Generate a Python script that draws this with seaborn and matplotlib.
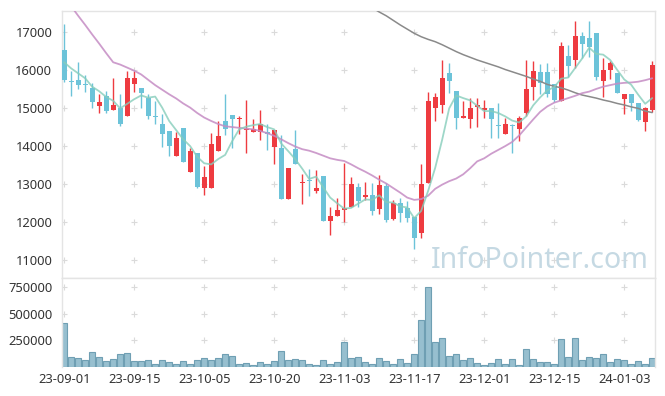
import numpy as np
import pandas as pd
import seaborn as sns
import matplotlib
matplotlib.use('Agg')
import matplotlib.pyplot as plt

sns.set_theme(style="white")
plt.rcParams['font.family'] = ['Noto Sans', 'DejaVu Sans']

# x tick labels, one every 10 trading days
tick_labels = ['23-09-01', '23-09-15', '23-10-05', '23-10-20', '23-11-03',
               '23-11-17', '23-12-01', '23-12-15', '24-01-03']

opens = [16520, 15700, 15730, 15630, 15520, 15060, 15310, 14960, 15000, 14800, 15620, 15520,
         15270, 14780, 14580, 14390, 13750, 14470, 13330, 13820, 12910, 12910, 13860, 14650,
         14810, 14710, 14410, 14380, 14380, 14380, 13980, 13960, 12620, 13920, 13040, 13090,
         12820, 13220, 12040, 12170, 12320, 12410, 12920, 12670, 12710, 12340, 12950, 12100,
         12510, 12380, 12140, 11710, 13040, 15010, 15080, 15920, 15440, 14730, 14700, 15030,
         14960, 14990, 14530, 14310, 14530, 14440, 14880, 15560, 15940, 15940, 15640, 15190,
         16360, 16270, 16890, 16830, 16960, 15710, 16010, 15930, 15230, 15360, 15120, 14640, 14950]
closes = [15730, 15680, 15610, 15610, 15160, 15150, 14930, 15090, 14590, 15780, 15780, 15400,
          14790, 14760, 14320, 14010, 14210, 13590, 13870, 12930, 13180, 14050, 14260, 14440,
          14720, 14730, 14430, 14450, 14590, 14310, 14420, 12620, 13420, 13540, 13060, 13080,
          12890, 12040, 12160, 12320, 12370, 13010, 12560, 12710, 12290, 12980, 12070, 12520,
          12250, 12120, 11590, 13000, 15180, 15280, 15780, 15710, 14730, 14790, 15010, 15080,
          15010, 14720, 14520, 14590, 14520, 14740, 15510, 15980, 15660, 15380, 15220, 16620,
          16110, 16890, 16670, 16610, 15820, 16010, 16170, 15400, 15360, 15120, 14680, 14990, 16140]
highs = [17200, 15970, 16200, 15860, 15660, 15380, 15440, 15780, 15360, 15970, 15970, 15520,
         15360, 15190, 14830, 14390, 14370, 14470, 13960, 13820, 13480, 14350, 14650, 15360,
         14810, 14790, 15210, 14710, 14940, 14570, 14420, 14280, 13420, 14420, 13280, 13390,
         13370, 13220, 12410, 12650, 13570, 13190, 13040, 13050, 13040, 13230, 13040, 12580,
         12630, 12560, 12140, 13540, 15410, 15400, 16260, 16190, 15440, 15180, 15250, 15250,
         15210, 14990, 15140, 14730, 14570, 14790, 16270, 16230, 16150, 16170, 15640, 16740,
         16650, 17290, 17000, 17290, 16960, 16300, 16240, 15930, 15360, 15360, 15120, 15030, 16240]
lows = [15690, 15310, 15510, 15410, 15010, 14880, 14860, 14940, 14530, 14790, 15420, 15000,
        14700, 14570, 13980, 13750, 13750, 13590, 13330, 12890, 12710, 12910, 13860, 14290,
        13940, 14310, 13810, 14380, 14170, 13910, 13520, 12620, 12620, 13540, 12490, 12700,
        12760, 12040, 11680, 12170, 12010, 12410, 12410, 12580, 12190, 12210, 12020, 12070,
        12010, 12000, 11310, 11590, 13040, 14660, 14860, 15400, 14450, 14730, 14480, 14510,
        14730, 14200, 14200, 14310, 13820, 14140, 14790, 15220, 15380, 15280, 15160, 15190,
        15820, 16040, 16300, 16340, 15730, 15280, 15750, 15400, 14830, 14920, 14660, 14390, 14900]
volumes = [416600, 92600, 83300, 67900, 138900, 92600, 58600, 74000, 120000, 129600, 58600, 58600,
           67900, 30900, 67900, 49400, 30900, 58600, 30900, 67900, 83300, 67900, 83300, 120400,
           104900, 27800, 37000, 21600, 49400, 30900, 58600, 151200, 67900, 74000, 67900, 27800,
           18500, 67900, 30900, 49400, 234500, 83300, 92600, 49400, 27800, 83300, 58600, 27800,
           74000, 37000, 120400, 438200, 753000, 234500, 268500, 101800, 120400, 67900, 83300, 37000,
           18500, 37000, 74000, 27800, 74000, 18500, 166600, 74000, 49400, 49400, 27800, 259200,
           92600, 268500, 67900, 92600, 83300, 120400, 49400, 74000, 67900, 27800, 58600, 27800, 83300]

# moving average lines
ma5 = [16200, 16040, 15910, 15780, 15560, 15440, 15290, 15190, 14990, 15110, 15230, 15330,
       15270, 15300, 15010, 14660, 14420, 14180, 14000, 13720, 13550, 13520, 13660, 13770,
       14130, 14440, 14510, 14550, 14580, 14500, 14440, 14070, 13870, 13660, 13410, 13140,
       13200, 12920, 12650, 12500, 12360, 12380, 12490, 12600, 12590, 12710, 12530, 12520,
       12420, 12390, 12110, 12300, 12830, 13430, 14170, 14990, 15330, 15260, 15200, 15060,
       14920, 14920, 14870, 14780, 14670, 14620, 14780, 15070, 15280, 15460, 15550, 15770,
       15800, 16050, 16300, 16580, 16420, 16400, 16260, 16000, 15750, 15610, 15350, 15110, 15260]
ma20 = [17900, 17670, 17420, 17180, 16930, 16690, 16440, 16200, 16140, 16060, 15980, 15880,
        15740, 15600, 15480, 15360, 15250, 15120, 15010, 14870, 14750, 14660, 14580, 14520,
        14500, 14480, 14460, 14440, 14400, 14340, 14270, 14180, 14080, 13990, 13920, 13880,
        13820, 13750, 13680, 13640, 13610, 13520, 13420, 13330, 13230, 13120, 13020, 12900,
        12780, 12650, 12590, 12610, 12700, 12880, 12990, 13080, 13150, 13260, 13420, 13600,
        13680, 13800, 13900, 14000, 14110, 14280, 14490, 14700, 14900, 15040, 15140, 15200,
        15260, 15320, 15390, 15430, 15500, 15560, 15600, 15640, 15660, 15670, 15690, 15730, 15780]
ma60 = [np.nan] * 43 + [
        17740, 17630, 17520, 17420, 17300, 17180, 17070, 16960, 16870, 16800, 16740, 16660,
        16570, 16480, 16400, 16330, 16260, 16200, 16140, 16080, 16010, 15950, 15890, 15830,
        15760, 15700, 15620, 15570, 15530, 15470, 15400, 15340, 15300, 15260, 15210, 15170,
        15120, 15080, 15030, 14990, 14920, 14880]

RED = '#ee3b40'
BLUE = '#6cc3d9'

df = pd.DataFrame({'open': opens, 'close': closes, 'high': highs, 'low': lows,
                   'volume': volumes, 'ma5': ma5, 'ma20': ma20, 'ma60': ma60})
df['idx'] = np.arange(len(df))
df['color'] = np.where(df['close'] >= df['open'], RED, BLUE)

fig = plt.figure(figsize=(6.65, 3.96), dpi=100)
ax = fig.add_axes([62 / 665, 1 - 278 / 396, 593 / 665, 267 / 396])
axv = fig.add_axes([62 / 665, 1 - 367 / 396, 593 / 665, 89 / 396])

# candles
ax.vlines(df['idx'], df['low'], df['high'], colors=df['color'], linewidth=1.0, zorder=2)
body = np.maximum((df['close'] - df['open']).abs(), 30)
ax.bar(df['idx'], body, bottom=df[['open', 'close']].min(axis=1), width=0.72,
       color=df['color'], linewidth=0, zorder=3)

sns.lineplot(data=df, x='idx', y='ma60', ax=ax, color='#8a8a8a', linewidth=1.1, zorder=4)
sns.lineplot(data=df, x='idx', y='ma20', ax=ax, color='#c58cc4', linewidth=1.3, alpha=0.85, zorder=4)
sns.lineplot(data=df, x='idx', y='ma5', ax=ax, color='#86cdbb', linewidth=1.3, alpha=0.8, zorder=5)

# volume
axv.bar(df['idx'], df['volume'], width=0.92, color='#97bfcf', edgecolor='#6f9fb3',
        linewidth=0.8, zorder=2)

xticks = np.arange(0, len(df), 10)
price_ticks = [11000, 12000, 13000, 14000, 15000, 16000, 17000]
vol_ticks = [250000, 500000, 750000]

for a, yt in ((ax, price_ticks), (axv, vol_ticks)):
    gx, gy = np.meshgrid(xticks, yt)
    a.scatter(gx.ravel(), gy.ravel(), marker='+', s=16, color='#dadada', linewidths=0.8, zorder=1)
    a.set_xlim(-0.31, 84.4)
    a.set_yticks(yt)
    a.set_yticklabels([str(v) for v in yt])
    a.tick_params(length=0, labelsize=9.3, colors='#333333', pad=7)
    a.set_xlabel('')
    a.set_ylabel('')
    for s in a.spines.values():
        s.set_color('#e4e4e4')
        s.set_linewidth(1)

ax.set_ylim(10540, 17545)
ax.set_xticks(xticks)
ax.set_xticklabels([])
axv.set_ylim(0, 836000)
axv.spines['bottom'].set_visible(False)
axv.set_xticks(xticks)
axv.set_xticklabels(tick_labels)
axv.tick_params(axis='x', pad=4)

fig.text(431 / 665, 1 - 268 / 396, 'InfoPointer.com', fontsize=20.6, color='#c5d9e3',
         ha='left', va='baseline', zorder=10)

fig.savefig('out.png', dpi=100)
